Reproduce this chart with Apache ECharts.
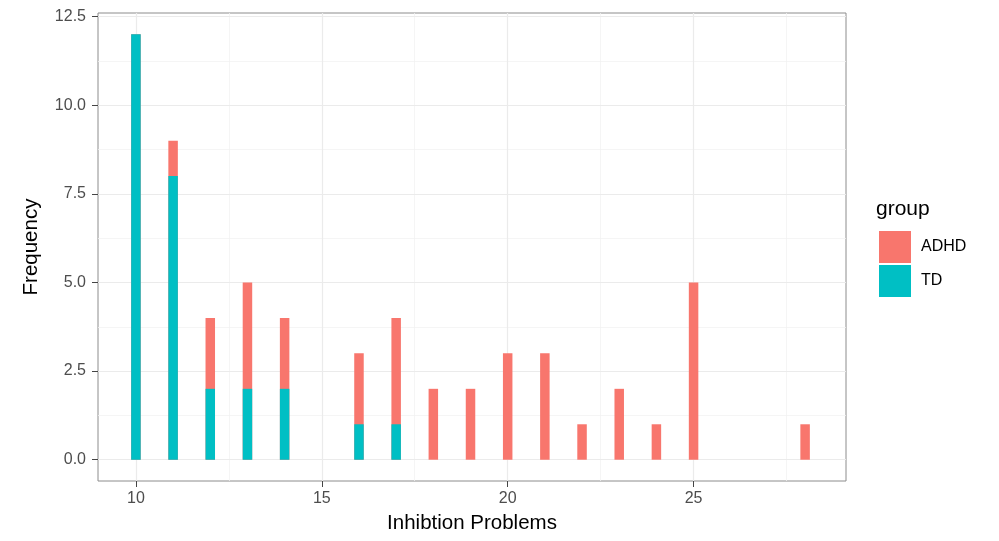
<!DOCTYPE html>
<html>
<head>
<meta charset="utf-8">
<script src="https://cdn.jsdelivr.net/npm/echarts@6/dist/echarts.min.js"></script>
<style>
  html, body { margin: 0; padding: 0; background: #fff; }
  #chart { width: 999px; height: 541px; }
</style>
</head>
<body>
<div id="chart"></div>
<script>
// inhibition problem scores (bin centres) and counts per group
const scores = [10, 11, 12, 13, 14, 16, 17, 18, 19, 20, 21, 22, 23, 24, 25, 28];
const tdCounts = [12, 8, 2, 2, 2, 1, 1, 0, 0, 0, 0, 0, 0, 0, 0, 0];
const adhdCounts = [0, 1, 2, 3, 2, 2, 3, 2, 2, 3, 3, 1, 2, 1, 5, 1];

const xTicks = [10, 15, 20, 25];
const xMinor = [12.5, 17.5, 22.5, 27.5];
const yTicks = [0, 2.5, 5, 7.5, 10, 12.5];
const yMinor = [1.25, 3.75, 6.25, 8.75, 11.25];

const ADHD_COLOR = '#F8766D';
const TD_COLOR = '#00BFC4';
const FONT = 'Liberation Sans, Arial, sans-serif';

const chart = echarts.init(document.getElementById('chart'));

const gridLines = [].concat(
  xMinor.map(v => ({ xAxis: v, lineStyle: { color: '#f3f3f3', width: 0.8, type: 'solid' } })),
  yMinor.map(v => ({ yAxis: v, lineStyle: { color: '#f3f3f3', width: 0.8, type: 'solid' } })),
  xTicks.map(v => ({ xAxis: v, lineStyle: { color: '#ebebeb', width: 1.2, type: 'solid' } })),
  yTicks.map(v => ({ yAxis: v, lineStyle: { color: '#ebebeb', width: 1.2, type: 'solid' } }))
);

// ADHD sits on top of TD: draw the full stack height, then TD over it
const stackTop = scores.map((s, i) => [s, tdCounts[i] + adhdCounts[i]]);
const tdBars = scores.map((s, i) => [s, tdCounts[i]]);

chart.setOption({
  animation: false,
  textStyle: { fontFamily: FONT },
  title: {
    text: 'group',
    left: 876,
    top: 199,
    padding: 0,
    textStyle: { fontSize: 21, fontWeight: 'normal', color: '#000', fontFamily: FONT }
  },
  legend: {
    data: ['ADHD', 'TD'],
    orient: 'vertical',
    left: 874,
    top: 226,
    itemWidth: 32,
    itemHeight: 32,
    itemGap: 2,
    icon: 'rect',
    textStyle: { fontSize: 16, color: '#000', padding: [0, 0, 0, 5] }
  },
  grid: {
    left: 98, right: 153, top: 13, bottom: 60,
    show: true,
    borderColor: '#8c8c8c',
    borderWidth: 1,
    backgroundColor: 'transparent'
  },
  xAxis: {
    type: 'value',
    min: 8.98,
    max: 29.1,
    name: 'Inhibtion Problems',
    nameLocation: 'middle',
    nameGap: 32,
    nameTextStyle: { fontSize: 20.5, color: '#000' },
    axisLine: { show: false, onZero: false },
    splitLine: { show: false },
    axisTick: { show: true, length: 6, lineStyle: { color: '#444' }, customValues: xTicks },
    axisLabel: { fontSize: 16, color: '#4d4d4d', margin: 10, customValues: xTicks }
  },
  yAxis: {
    type: 'value',
    min: -0.6,
    max: 12.6,
    name: 'Frequency',
    nameLocation: 'middle',
    nameGap: 56,
    nameTextStyle: { fontSize: 20.5, color: '#000' },
    axisLine: { show: false, onZero: false },
    splitLine: { show: false },
    axisTick: { show: true, length: 6, lineStyle: { color: '#444' }, customValues: yTicks },
    axisLabel: {
      fontSize: 16, color: '#4d4d4d', margin: 12, customValues: yTicks,
      formatter: v => v.toFixed(1)
    }
  },
  series: [
    {
      name: 'grid',
      type: 'line',
      data: [],
      silent: true,
      z: 0,
      markLine: {
        silent: true,
        symbol: 'none',
        z: 0,
        label: { show: false },
        emphasis: { disabled: true },
        animation: false,
        data: gridLines
      }
    },
    {
      name: 'ADHD',
      type: 'bar',
      barWidth: 9.5,
      barGap: '-100%',
      z: 3,
      itemStyle: { color: ADHD_COLOR },
      data: stackTop
    },
    {
      name: 'TD',
      type: 'bar',
      barWidth: 9.5,
      barGap: '-100%',
      z: 4,
      itemStyle: { color: TD_COLOR },
      data: tdBars
    }
  ]
});
</script>
</body>
</html>
